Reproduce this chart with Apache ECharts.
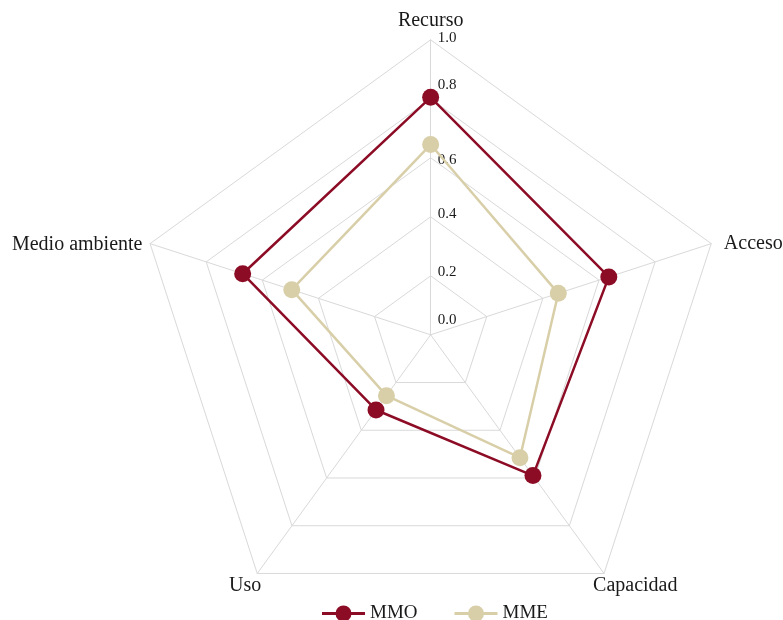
<!DOCTYPE html>
<html><head><meta charset="utf-8">
<script src="https://cdn.jsdelivr.net/npm/echarts@6/dist/echarts.min.js"></script>
<style>html,body{margin:0;padding:0;background:#fff}#c{width:783px;height:620px}</style>
</head><body><div id="c"></div>
<script>
// Axes in clockwise order starting at the top, as in the reference
const categories = ['Recurso', 'Acceso', 'Capacidad', 'Uso', 'Medio ambiente'];
const seriesNames = ['MMO', 'MME'];
const mmoValues = [0.805, 0.635, 0.59, 0.315, 0.67];
const mmeValues = [0.645, 0.455, 0.515, 0.255, 0.495];
const tickLabels = ['0.0', '0.2', '0.4', '0.6', '0.8', '1.0'];
const colors = ['#8c0b25', '#d8cfa9'];

// Styling only: label nudges per axis name and per tick label
const nameStyles = {
  'Recurso': {},
  'Acceso': { padding: [0, 0, 0, 5] },
  'Capacidad': { align: 'center', padding: [0, 0, 0, 53] },
  'Uso': { align: 'center', padding: [0, 15, 0, 0] },
  'Medio ambiente': {}
};
const nameVPad = {
  'Recurso': [0, 0, 0, 0],
  'Acceso': [6, 0, 0, 0],
  'Capacidad': [12, 0, 0, 0],
  'Uso': [12, 0, 0, 0],
  'Medio ambiente': [8, 0, 0, 0]
};
const tickPad = [[0,0,30,0],[0,0,8,0],[0,0,6,0],[4,0,0,0],[0,0,28,0],[0,0,4,0]];

// ECharts radar runs counter-clockwise: keep first, reverse the rest
const order = [0].concat(categories.map((_, i) => i).slice(1).reverse());
const reorder = arr => order.map(i => arr[i]);

const FONT = '"Liberation Serif", "DejaVu Serif", serif';
const rich = {};
tickPad.forEach((p, i) => { rich['t' + i] = { padding: p, fontFamily: FONT, fontSize: 15, color: '#1a1a1a' }; });
const nameRich = {};
categories.forEach((c, i) => { nameRich['n' + i] = { padding: nameVPad[c], fontFamily: FONT, fontSize: 20, color: '#1a1a1a' }; });

const legendIcon = 'path://M0 6.5H43V9.5H0Z M13.5 8A8 8 0 1 1 29.5 8A8 8 0 1 1 13.5 8Z';

const chart = echarts.init(document.getElementById('c'));
chart.setOption({
  animation: false,
  backgroundColor: '#ffffff',
  legend: {
    data: seriesNames.map(n => ({ name: n, icon: legendIcon })),
    top: 599,
    left: 317,
    itemWidth: 43,
    itemHeight: 16,
    itemGap: 37,
    textStyle: { fontFamily: FONT, fontSize: 19, color: '#1a1a1a' }
  },
  radar: {
    center: ['55%', '54%'],
    radius: 295,
    startAngle: 90,
    splitNumber: 5,
    shape: 'polygon',
    axisName: {
      color: '#1a1a1a', fontFamily: FONT, fontSize: 20,
      rich: nameRich,
      formatter: v => '{n' + categories.indexOf(v) + '|' + v + '}'
    },
    nameGap: 8,
    splitArea: { show: false },
    splitLine: { lineStyle: { color: '#d9d9d9', width: 1 } },
    axisLine: { lineStyle: { color: '#d9d9d9', width: 1 } },
    axisTick: { show: false },
    axisLabel: { show: false },
    indicator: reorder(categories).map((name, i) => ({
      name: name,
      min: 0,
      max: 1,
      nameTextStyle: nameStyles[name],
      axisLabel: i === 0 ? {
        show: true,
        align: 'left',
        margin: 8,
        padding: [0, 0, 0, 15],
        fontFamily: FONT,
        fontSize: 15,
        color: '#1a1a1a',
        rich: rich,
        formatter: v => { const k = Math.round(v * 5); return '{t' + k + '|' + tickLabels[k] + '}'; }
      } : { show: false }
    }))
  },
  series: [{
    type: 'radar',
    symbol: 'circle',
    symbolSize: 17,
    data: [
      { name: seriesNames[0], value: reorder(mmoValues),
        itemStyle: { color: colors[0] }, lineStyle: { color: colors[0], width: 2.5 } },
      { name: seriesNames[1], value: reorder(mmeValues),
        itemStyle: { color: colors[1] }, lineStyle: { color: colors[1], width: 2.5 } }
    ]
  }]
});
</script>
</body></html>
